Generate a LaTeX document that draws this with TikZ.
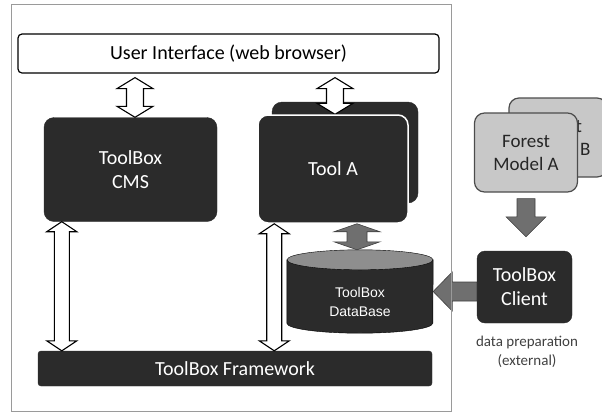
\documentclass[tikz,border=0pt]{standalone}
\usepackage{fontspec}
\setmainfont{Carlito}
\newfontfamily\dbfont{Liberation Sans}
\usetikzlibrary{calc}

\definecolor{boxdark}{HTML}{2B2B2B}
\definecolor{arrowgray}{HTML}{6F6F6F}
\definecolor{dbtop}{HTML}{8E8E8E}
\definecolor{modelgray}{HTML}{C8C8C8}
\definecolor{framegray}{HTML}{9A9A9A}

% two-headed block arrow: style, x from, top, bottom, half shaft, half head, head length
\newcommand\vdarrow[7]{%
  \draw[#1] let \p1=(#2), \p2=(#3), \p3=(#4) in
    (\x1,\y2) -- (\x1+#6,\y2-#7) -- (\x1+#5,\y2-#7) -- (\x1+#5,\y3+#7)
    -- (\x1+#6,\y3+#7) -- (\x1,\y3) -- (\x1-#6,\y3+#7) -- (\x1-#5,\y3+#7)
    -- (\x1-#5,\y2-#7) -- (\x1-#6,\y2-#7) -- cycle;}

\begin{document}
\begin{tikzpicture}[x=1pt,y=-1pt,
    every node/.style={font=\fontsize{20}{24}\selectfont, align=center, inner sep=0pt},
    darkbox/.style={fill=boxdark, draw=boxdark, text=white, rounded corners=10pt},
    model/.style={fill=modelgray, draw=black!70, line width=1.2pt, rounded corners=10pt,
      text=black!85, font=\fontsize{19}{23}\selectfont, minimum width=103pt, minimum height=79pt},
    hollow/.style={fill=white, draw=black, line width=1.1pt},
    grayarrow/.style={fill=arrowgray, draw=black!75, line width=0.6pt}]
    \useasboundingbox (0,0) rectangle (602,413);

    \node[draw=black, line width=1.2pt, rounded corners=4pt, minimum width=421pt, minimum height=39pt] (ui) at (228.5,53.5) {User Interface (web browser)};

    \node[darkbox, minimum width=173pt, minimum height=104pt] (cms) at (130.5,169.5) {ToolBox\\CMS};
    \node[darkbox, minimum width=146pt, minimum height=101pt] (toolb) at (345,152.5) {};
    \vdarrow{hollow}{$(toolb.north)+(-10,0)$}{[yshift=-4pt]ui.south}{[yshift=-12.5pt]toolb.north}{8.5pt}{18pt}{11pt}
    \node[darkbox, draw=white, line width=1.5pt, minimum width=150pt, minimum height=108pt] (toola) at (333,169) {Tool A};

    % database
    \node[minimum width=146pt, minimum height=83pt] (db) at (360,291.5) {};
    \filldraw[fill=boxdark, draw=black] ([yshift=-10pt]db.north west) -- ([yshift=10pt]db.south west)
      arc[start angle=180, end angle=360, x radius=73pt, y radius=10pt] -- ([yshift=-10pt]db.north east) -- cycle;
    \filldraw[fill=dbtop, draw=black] ([yshift=-10pt]db.north) ellipse [x radius=73pt, y radius=10pt];
    \node[text=white, font=\dbfont\fontsize{14}{19}\selectfont] (dbtext) at ([yshift=-10pt]db.center) {ToolBox\\DataBase};

    \node[darkbox, rounded corners=3pt, minimum width=394pt, minimum height=35pt] (fw) at (235,368.5) {ToolBox Framework};

    \vdarrow{hollow}{$(cms.north)+(4.5,0)$}{[yshift=-4pt]ui.south}{cms.north}{8.5pt}{18pt}{11pt}
    \vdarrow{hollow}{$(cms.south west)+(18,0)$}{cms.south}{fw.north}{7.5pt}{15pt}{10pt}
    \vdarrow{hollow}{$(toola.south west)+(17,0)$}{toola.south}{fw.north}{7.5pt}{15pt}{10pt}
    \vdarrow{grayarrow}{$(toola.south)+(24,0)$}{toola.south}{db.north}{10pt}{23pt}{8pt}

    % external models
    \node[model, minimum width=98pt] (fmb) at (558,137.5) {Forest\\Model B};
    \node[model] (fma) at (526,152.5) {Forest\\Model A};
    \node[darkbox, rounded corners=8pt, minimum width=95pt, minimum height=72pt] (client) at (524.5,287) {ToolBox\\Client};
    \node[font=\fontsize{15}{19}\selectfont, text=black!75] (note) at (527,352) {data preparation\\(external)};

    \draw[grayarrow] let \p1=([yshift=-6pt]fma.south), \p2=([yshift=14pt]client.north) in
      (\x1-9pt,\y1) -- (\x1+9pt,\y1) -- (\x1+9pt,\y2+20pt) -- (\x1+20pt,\y2+20pt) -- (\x1,\y2)
      -- (\x1-20pt,\y2+20pt) -- (\x1-9pt,\y2+20pt) -- cycle;
    \draw[grayarrow] let \p1=(client.west), \p2=(db.east) in
      (\x1,\y2+9.5pt) -- (\x2+19pt,\y2+9.5pt) -- (\x2+19pt,\y2+19.5pt) -- (\x2,\y2)
      -- (\x2+19pt,\y2-19.5pt) -- (\x2+19pt,\y2-9.5pt) -- (\x1,\y2-9.5pt) -- cycle;

    \draw[framegray, line width=1pt] (11,4) rectangle (451,411);
\end{tikzpicture}
\end{document}
